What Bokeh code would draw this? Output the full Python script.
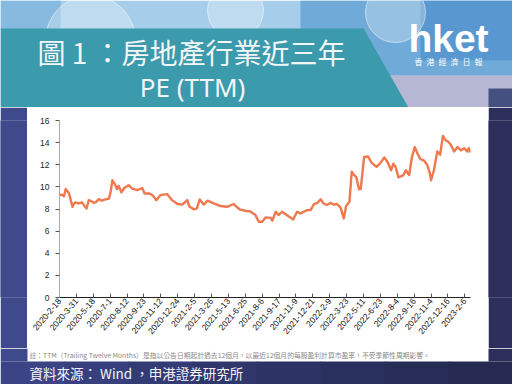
from bokeh.plotting import figure
from bokeh.layouts import column, row
from bokeh.models import Range1d, FixedTicker, GlobalInlineStyleSheet
from bokeh.core.properties import value
from bokeh.embed import file_html
from bokeh.resources import INLINE

# ---------------- data ----------------
tick_labels = ["2020-2-18", "2020-3-31", "2020-5-18", "2020-7-1", "2020-8-12", "2020-9-23",
               "2020-11-12", "2020-12-24", "2021-2-5", "2021-3-26", "2021-5-13", "2021-6-25",
               "2021-8-6", "2021-9-17", "2021-11-9", "2021-12-21", "2022-2-9", "2022-3-23",
               "2022-5-11", "2022-6-23", "2022-8-4", "2022-9-16", "2022-11-4", "2022-12-16",
               "2023-2-6"]
tick_step = 30  # trading days between labelled ticks

day_index = [0, 4, 8, 11, 14, 17, 20, 23, 25, 28, 34, 40, 44, 48, 52, 57, 61, 64, 70, 75,
             80, 88, 91, 94, 96, 98, 102, 105, 110, 115, 123, 129, 138, 147, 151, 159, 162,
             166, 172, 179, 191, 200, 209, 218, 227, 231, 239, 244, 249, 256, 263, 274, 286,
             298, 309, 320, 330, 339, 348, 354, 360, 366, 375, 378, 384, 389, 395, 401, 410,
             415, 422, 428, 434, 440, 446, 452, 458, 464, 469, 475, 481, 487, 493, 499, 505,
             509, 515, 519, 523, 527, 532, 535, 541, 548, 554, 563, 569, 577, 583, 589, 593,
             597, 602, 611, 615, 621, 626, 631, 635, 641, 647, 653, 658, 660, 665, 671, 676,
             681, 686, 690, 695, 701, 707, 713, 719, 724, 727, 730]
pe_ttm = [9.25, 9.3, 9.15, 9.8, 9.6, 9.4, 8.8, 8.2, 8.4, 8.6, 8.5, 8.6, 8.3, 8.05, 8.8, 8.7,
          8.55, 8.6, 8.9, 8.75, 8.85, 8.95, 9.6, 10.6, 10.4, 10.3, 9.8, 10.1, 9.5, 9.9, 10.15,
          9.85, 9.7, 9.9, 9.4, 9.4, 9.35, 9.2, 8.8, 9.25, 9.35, 8.8, 8.47, 8.4, 8.8, 8.2, 7.97,
          8.05, 8.87, 8.4, 8.75, 8.5, 8.27, 8.2, 8.45, 7.97, 7.84, 7.78, 7.45, 6.85, 6.85,
          7.24, 7.2, 6.95, 7.75, 7.45, 7.75, 7.55, 7.24, 7.05, 7.75, 7.6, 7.75, 7.9, 7.9, 8.45,
          8.55, 8.87, 8.5, 8.36, 8.55, 8.4, 8.45, 8.15, 7.15, 8.26, 8.66, 11.37, 11.07, 10.9,
          9.78, 9.8, 12.7, 12.75, 12.2, 11.8, 12.1, 12.66, 12.2, 11.5, 12.1, 11.8, 10.86,
          11.07, 11.5, 11.07, 12.7, 13.6, 13.1, 12.5, 12.4, 12.0, 11.2, 10.6, 11.5, 13.2, 12.9,
          14.6, 14.2, 14.1, 13.8, 13.2, 13.6, 13.3, 13.5, 13.2, 13.5, 13.1]
y_ticks = [0, 2, 4, 6, 8, 10, 12, 14, 16]

title_line1 = "圖 1 ：房地產行業近三年"
title_line2 = "PE (TTM)"
note_text = "註：TTM（Trailing Twelve Months）是指以公告日期起計過去12個月，以最近12個月的每股盈利計算市盈率，不受季節性周期影響。"
source_text = "資料來源： Wind ，申港證券研究所"
logo_text = "hket"
logo_sub = "香\u2002港\u2002經\u2002濟\u2002日\u2002報"

# ---------------- layout constants (canvas pixels) ----------------
W, H = 512, 384
HEAD_H = 107       # header strip height
PANEL_L, PANEL_R = 27, 488
MID_BOTTOM = 348   # bottom of the chart row
FL, FR, FT, FB = 59, 470, 120, 297  # plot frame edges
LEFT_COL, RIGHT_COL = "#3e4a8c", "#2b2f5a"


def deco_fig(w, h, y_top, fill="white"):
    f = figure(width=w, height=h, output_backend="svg", toolbar_location=None,
               x_range=Range1d(0, w), y_range=Range1d(y_top + h, y_top),
               x_axis_type=None, y_axis_type=None, min_border=0,
               border_fill_color=fill, background_fill_color=fill,
               outline_line_color=None)
    f.grid.visible = False
    return f


def rect(f, l, t, r, b, color):
    f.quad(left=l, right=r, top=t, bottom=b, fill_color=color, line_color=None)


def txt(f, x, y, text, size, color, font, align="center", baseline="middle", style="normal"):
    f.text(x=[x], y=[y], text=[text], text_font_size=value(size), text_color=color,
           text_font=value(font), text_align=align, text_baseline=baseline,
           text_font_style=style)


# ---------- header ----------
head = deco_fig(W, HEAD_H, 0)
rect(head, 0, 0, 512, 107, "#a6cdea")
rect(head, 0, 0, 60, 30, "#86badf")
rect(head, 300, 0, 512, 75, "#70aad9")
rect(head, 420, 0, 512, 60, "#5897cf")
rect(head, 370, 75, 512, 107, "#b6b8d3")
rect(head, 488, 88, 512, 107, "#44507f")
head.circle(x=[90, 235, 395], y=[40, 10, 12], radius=[45, 28, 30], fill_color="white",
            fill_alpha=0.28, line_color="white", line_alpha=0.5)
band_x = [0, 363, 408, 0]
band_y = [28, 28, 107, 107]
head.patch(band_x, band_y, fill_color="#3b9aab", line_color=None)
txt(head, 191, 51, title_line1, "28px", "#f2f6f8", "Noto Sans CJK TC")
txt(head, 192, 86, title_line2, "26px", "#f2f6f8", "Noto Sans")
txt(head, 448, 38, logo_text, "39px", "white", "Liberation Sans", style="bold")
txt(head, 448, 61, logo_sub, "8px", "white", "Noto Sans CJK TC")

# ---------- side strips ----------
mid_h = MID_BOTTOM - HEAD_H
left = deco_fig(PANEL_L, mid_h, HEAD_H, LEFT_COL)
rect(left, 0, HEAD_H, PANEL_L, MID_BOTTOM, LEFT_COL)
right = deco_fig(W - PANEL_R, mid_h, HEAD_H, RIGHT_COL)
rect(right, 0, HEAD_H, W - PANEL_R, MID_BOTTOM, RIGHT_COL)

# ---------- chart ----------
p = figure(width=PANEL_R - PANEL_L, height=mid_h, output_backend="svg",
           toolbar_location=None, x_range=Range1d(0, 730), y_range=Range1d(0, 16),
           min_border_left=FL - PANEL_L, min_border_right=PANEL_R - FR,
           min_border_top=FT - HEAD_H, min_border_bottom=MID_BOTTOM - FB,
           border_fill_color="white", background_fill_color="white",
           outline_line_color=None)
p.grid.visible = False
p.line(day_index, pe_ttm, line_color="#f0784f", line_width=2.4, line_join="round")

p.xaxis.ticker = FixedTicker(ticks=[i * tick_step for i in range(len(tick_labels))])
p.xaxis.major_label_overrides = {i * tick_step: t for i, t in enumerate(tick_labels)}
p.xaxis.major_label_orientation = 0.87
p.xaxis.axis_line_color = "#222222"
p.xaxis.major_tick_in = 4
p.xaxis.major_tick_out = 0
p.xaxis.major_tick_line_color = "#555555"
p.xaxis.minor_tick_line_color = None
p.xaxis.major_label_text_font = "Liberation Sans"
p.xaxis.major_label_text_font_size = "8.5px"
p.xaxis.major_label_text_color = "#111111"
p.xaxis.major_label_standoff = 2

p.yaxis.ticker = FixedTicker(ticks=y_ticks)
p.yaxis.axis_line_color = "#a8a8a8"
p.yaxis.major_tick_in = 0
p.yaxis.major_tick_out = 4
p.yaxis.major_tick_line_color = "#555555"
p.yaxis.minor_tick_line_color = None
p.yaxis.major_label_text_font = "Liberation Sans"
p.yaxis.major_label_text_font_size = "8.5px"
p.yaxis.major_label_text_color = "#222222"
p.yaxis.major_label_standoff = 6

# ---------- footer ----------
foot = deco_fig(W, H - MID_BOTTOM, MID_BOTTOM)
rect(foot, 0, MID_BOTTOM, PANEL_L, 361, LEFT_COL)
rect(foot, PANEL_R, MID_BOTTOM, W, 361, RIGHT_COL)
bottom_cols = ["#3b4586", "#37407d", "#333b74", "#30376b", "#2d3364", "#2a305d", "#282d57",
               "#262a52"]
for i, c in enumerate(bottom_cols):
    rect(foot, i * 64, 361, (i + 1) * 64 + 1, 384, c)
txt(foot, 29, 354, note_text, "6.8px", "#8a8a8a", "Noto Sans CJK TC", align="left")
txt(foot, 29, 372, source_text, "13.5px", "#f4f4f8", "Noto Sans CJK TC", align="left")

layout = column(head, row(left, p, right, spacing=0), foot, spacing=0)
layout.stylesheets = [GlobalInlineStyleSheet(css="html,body{margin:0;padding:0;overflow:hidden;}")]

open("out.html", "w").write(file_html(layout, INLINE))
